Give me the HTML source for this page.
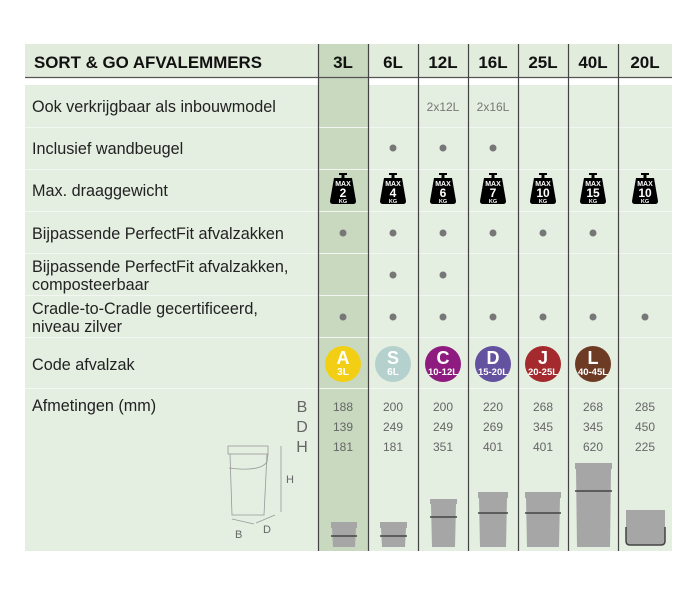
<!DOCTYPE html>
<html><head><meta charset="utf-8"><style>
body{margin:0;background:#fff;}
svg text{font-family:"Liberation Sans",sans-serif;}
</style></head><body>
<svg width="700" height="600" viewBox="0 0 700 600" xmlns="http://www.w3.org/2000/svg">
<rect x="25" y="44" width="647" height="33" fill="#e2ecdc"/>
<rect x="318" y="44" width="51" height="33" fill="#c8d9bf"/>
<rect x="25" y="85" width="647" height="466" fill="#e4eee1"/>
<rect x="318" y="77" width="51" height="474" fill="#c8d9bf"/>
<line x1="25" y1="77.5" x2="672" y2="77.5" stroke="#555" stroke-width="1.2"/>
<g stroke="#f3f7f1" stroke-width="1">
<line x1="25" y1="127.5" x2="672" y2="127.5"/><line x1="25" y1="169.5" x2="672" y2="169.5"/>
<line x1="25" y1="211.5" x2="672" y2="211.5"/><line x1="25" y1="253.5" x2="672" y2="253.5"/>
<line x1="25" y1="295.5" x2="672" y2="295.5"/><line x1="25" y1="337.5" x2="672" y2="337.5"/>
<line x1="25" y1="388.5" x2="672" y2="388.5"/>
</g>
<g stroke="#444" stroke-width="1.2">
<line x1="318.5" y1="44" x2="318.5" y2="551"/><line x1="368.5" y1="44" x2="368.5" y2="551"/>
<line x1="418.5" y1="44" x2="418.5" y2="551"/><line x1="468.5" y1="44" x2="468.5" y2="551"/>
<line x1="518.5" y1="44" x2="518.5" y2="551"/><line x1="568.5" y1="44" x2="568.5" y2="551"/>
<line x1="618.5" y1="44" x2="618.5" y2="551"/>
</g>
<g font-size="17" font-weight="bold" fill="#111">
<text x="34" y="68" textLength="228" lengthAdjust="spacingAndGlyphs">SORT &amp; GO AFVALEMMERS</text>
<g text-anchor="middle"><text x="343" y="68">3L</text><text x="393" y="68">6L</text><text x="443" y="68">12L</text><text x="493" y="68">16L</text><text x="543" y="68">25L</text><text x="593" y="68">40L</text><text x="645" y="68">20L</text></g>
</g>
<g font-size="16.2" fill="#222">
<text x="32" y="112">Ook verkrijgbaar als inbouwmodel</text>
<text x="32" y="154">Inclusief wandbeugel</text>
<text x="32" y="196">Max. draaggewicht</text>
<text x="32" y="239">Bijpassende PerfectFit afvalzakken</text>
<text x="32" y="272">Bijpassende PerfectFit afvalzakken,</text>
<text x="32" y="290">composteerbaar</text>
<text x="32" y="314">Cradle-to-Cradle gecertificeerd,</text>
<text x="32" y="332">niveau zilver</text>
<text x="32" y="370">Code afvalzak</text>
<text x="32" y="411">Afmetingen (mm)</text>
</g>
<g font-size="12" fill="#777" text-anchor="middle"><text x="443" y="111">2x12L</text><text x="493" y="111">2x16L</text></g>
<g fill="#777">
<circle cx="393" cy="148" r="3.5"/><circle cx="443" cy="148" r="3.5"/><circle cx="493" cy="148" r="3.5"/>
<circle cx="343" cy="233" r="3.5"/><circle cx="393" cy="233" r="3.5"/><circle cx="443" cy="233" r="3.5"/><circle cx="493" cy="233" r="3.5"/><circle cx="543" cy="233" r="3.5"/><circle cx="593" cy="233" r="3.5"/>
<circle cx="393" cy="275" r="3.5"/><circle cx="443" cy="275" r="3.5"/>
<circle cx="343" cy="317" r="3.5"/><circle cx="393" cy="317" r="3.5"/><circle cx="443" cy="317" r="3.5"/><circle cx="493" cy="317" r="3.5"/><circle cx="543" cy="317" r="3.5"/><circle cx="593" cy="317" r="3.5"/><circle cx="645" cy="317" r="3.5"/>
</g>
<defs><g id="w"><rect x="-4" y="-18" width="8" height="2" fill="#000"/><rect x="-1.5" y="-17" width="3" height="4" fill="#000"/><path d="M-9,-13 H9 L13,10 Q13,13 10,13 H-10 Q-13,13 -13,10 Z" fill="#000"/></g></defs>
<g font-weight="bold" fill="#fff" text-anchor="middle">
<g transform="translate(343,191)"><use href="#w"/><text y="-5" font-size="7">MAX</text><text y="6" font-size="12">2</text><text y="12" font-size="5.5">KG</text></g>
<g transform="translate(393,191)"><use href="#w"/><text y="-5" font-size="7">MAX</text><text y="6" font-size="12">4</text><text y="12" font-size="5.5">KG</text></g>
<g transform="translate(443,191)"><use href="#w"/><text y="-5" font-size="7">MAX</text><text y="6" font-size="12">6</text><text y="12" font-size="5.5">KG</text></g>
<g transform="translate(493,191)"><use href="#w"/><text y="-5" font-size="7">MAX</text><text y="6" font-size="12">7</text><text y="12" font-size="5.5">KG</text></g>
<g transform="translate(543,191)"><use href="#w"/><text y="-5" font-size="7">MAX</text><text y="6" font-size="12">10</text><text y="12" font-size="5.5">KG</text></g>
<g transform="translate(593,191)"><use href="#w"/><text y="-5" font-size="7">MAX</text><text y="6" font-size="12">15</text><text y="12" font-size="5.5">KG</text></g>
<g transform="translate(645,191)"><use href="#w"/><text y="-5" font-size="7">MAX</text><text y="6" font-size="12">10</text><text y="12" font-size="5.5">KG</text></g>
</g>
<g font-weight="bold" fill="#fff" text-anchor="middle">
<circle cx="343" cy="364" r="18" fill="#f2cf15"/><text x="343" y="364" font-size="18">A</text><text x="343" y="375" font-size="10">3L</text>
<circle cx="393" cy="364" r="18" fill="#b5d1cd"/><text x="393" y="364" font-size="18">S</text><text x="393" y="375" font-size="10">6L</text>
<circle cx="443" cy="364" r="18" fill="#8e1c80"/><text x="443" y="364" font-size="18">C</text><text x="443" y="375" font-size="9.5">10-12L</text>
<circle cx="493" cy="364" r="18" fill="#62529f"/><text x="493" y="364" font-size="18">D</text><text x="493" y="375" font-size="9.5">15-20L</text>
<circle cx="543" cy="364" r="18" fill="#a52a2d"/><text x="543" y="364" font-size="18">J</text><text x="543" y="375" font-size="9.5">20-25L</text>
<circle cx="593" cy="364" r="18" fill="#6d3b24"/><text x="593" y="364" font-size="18">L</text><text x="593" y="375" font-size="9.5">40-45L</text>
</g>
<g font-size="16" fill="#666" text-anchor="middle"><text x="302" y="412">B</text><text x="302" y="432">D</text><text x="302" y="452">H</text></g>
<g font-size="12" fill="#666" text-anchor="middle">
<text x="343" y="411">188</text><text x="343" y="431">139</text><text x="343" y="451">181</text>
<text x="393" y="411">200</text><text x="393" y="431">249</text><text x="393" y="451">181</text>
<text x="443" y="411">200</text><text x="443" y="431">249</text><text x="443" y="451">351</text>
<text x="493" y="411">220</text><text x="493" y="431">269</text><text x="493" y="451">401</text>
<text x="543" y="411">268</text><text x="543" y="431">345</text><text x="543" y="451">401</text>
<text x="593" y="411">268</text><text x="593" y="431">345</text><text x="593" y="451">620</text>
<text x="645" y="411">285</text><text x="645" y="431">450</text><text x="645" y="451">225</text>
</g>
<g fill="none" stroke="#999" stroke-width="0.8">
<rect x="228" y="446" width="40" height="8"/><path d="M230,454 L232,515 H264 L267,454"/>
<path d="M229,468 Q260,472 267,462 L268,454"/>
<line x1="281" y1="446" x2="281" y2="512"/>
<line x1="232" y1="519" x2="254" y2="524"/><line x1="256" y1="523" x2="275" y2="515"/>
</g>
<g font-size="11" fill="#666"><text x="286" y="483">H</text><text x="235" y="538">B</text><text x="263" y="533">D</text></g>
<g fill="#a6a6a6">
<rect x="331" y="522" width="26" height="6"/><path d="M332,528 H356 L355,547 H333 Z"/>
<rect x="380" y="522" width="27" height="6"/><path d="M381,528 H406 L405,547 H382 Z"/>
<rect x="430" y="499" width="27" height="5"/><path d="M431,504 H456 L455,547 H432 Z"/>
<rect x="478" y="492" width="30" height="6"/><path d="M479,498 H507 L506,547 H480 Z"/>
<rect x="525" y="492" width="36" height="6"/><path d="M526,498 H560 L559,547 H527 Z"/>
<rect x="575" y="463" width="37" height="6"/><path d="M576,469 H611 L610,547 H577 Z"/>
<path d="M626,510 H665 V540 Q665,545 660,545 H631 Q626,545 626,540 Z"/>
</g>
<g stroke="#444" stroke-width="1.5" fill="none">
<line x1="331" y1="536" x2="357" y2="536"/><line x1="380" y1="536" x2="407" y2="536"/>
<line x1="430" y1="517" x2="457" y2="517"/><line x1="478" y1="513" x2="508" y2="513"/>
<line x1="525" y1="513" x2="561" y2="513"/><line x1="575" y1="491" x2="612" y2="491"/>
<path d="M626,527 V541 Q626,545 630,545 H661 Q665,545 665,541 V527"/>
</g>
</svg>
</body></html>
